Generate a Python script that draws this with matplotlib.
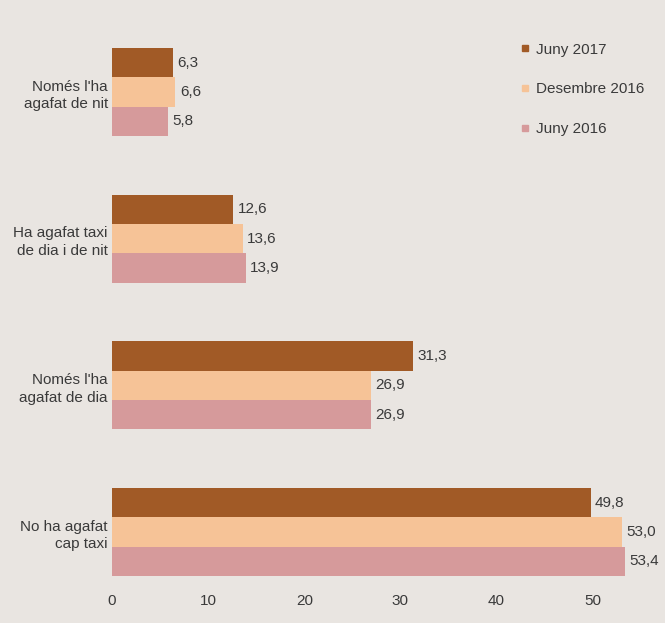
import numpy as np
import matplotlib.pyplot as plt
from matplotlib.lines import Line2D

plt.rcParams["font.family"] = ["Liberation Sans", "DejaVu Sans"]

categories = ["Només l'ha\nagafat de nit", "Ha agafat taxi\nde dia i de nit",
              "Només l'ha\nagafat de dia", "No ha agafat\ncap taxi"]
series = ["Juny 2017", "Desembre 2016", "Juny 2016"]
juny_2017 = [6.3, 12.6, 31.3, 49.8]
des_2016 = [6.6, 13.6, 26.9, 53.0]
juny_2016 = [5.8, 13.9, 26.9, 53.4]
xticks = [0, 10, 20, 30, 40, 50]

colors = ["#a15a26", "#f6c397", "#d69a9b"]
bg = "#e9e5e1"
txt = "#3a3a3a"
fs = 11

fig = plt.figure(figsize=(6.65, 6.23), dpi=100, facecolor=bg)
ax = fig.add_axes([112 / 665, 1 - 590 / 623, 548 / 665, 560 / 623])
ax.set_facecolor(bg)

y = np.arange(len(categories))
h = 0.2
for i, (vals, c) in enumerate(zip([juny_2017, des_2016, juny_2016], colors)):
    pos = y + (i - 1) * h
    ax.barh(pos, vals, height=h, color=c, label=series[i])
    for p, v in zip(pos, vals):
        ax.text(v + 0.45, p, f"{v:.1f}".replace(".", ","), va="center",
                ha="left", fontsize=fs, color=txt)

ax.set_xlim(0, 57)
ax.set_ylim(3.395, -0.423)
ax.set_xticks(xticks)
ax.set_yticks(y)
ax.set_yticklabels(categories, fontsize=fs, color=txt, ha="right",
                   multialignment="right", linespacing=1.35)
ax.tick_params(axis="x", length=0, labelsize=fs, labelcolor=txt, pad=3)
ax.tick_params(axis="y", length=0, pad=3)
for s in ax.spines.values():
    s.set_visible(False)

handles = [Line2D([], [], marker="s", ls="", color=c, markersize=4) for c in colors]
fig.legend(handles, series, loc="upper left", bbox_to_anchor=(505 / 665, 1 - 29 / 623),
           frameon=False, fontsize=fs, handlelength=0.8, handletextpad=0.3,
           labelspacing=1.68, labelcolor=txt)

fig.savefig("out.png", dpi=100, facecolor=bg)
